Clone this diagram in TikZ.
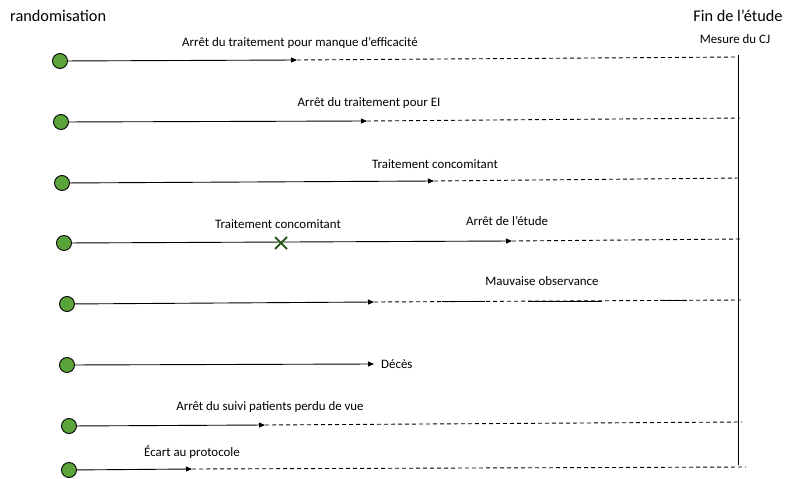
\documentclass[tikz,border=0pt]{standalone}
\usepackage{fontspec}
\setmainfont{Carlito}
\usetikzlibrary{arrows.meta}
\definecolor{dotgreen}{HTML}{5BA33B}
\definecolor{xgreen}{HTML}{2E5A1C}
\tikzset{
  dot/.style={circle,draw=black,fill=dotgreen,line width=0.9pt,minimum size=15pt,inner sep=0pt},
  solidarrow/.style={-{Triangle[length=6pt,width=5pt]},line width=0.9pt},
  dashline/.style={dashed,dash pattern=on 4pt off 3pt,line width=0.9pt},
  lbl/.style={font=\fontsize{12.9}{14}\selectfont,inner sep=0pt},
  big/.style={font=\fontsize{16.3}{18}\selectfont,inner sep=0pt},
  xmark/.style={draw=xgreen,line width=2pt}
}
\begin{document}
\begin{tikzpicture}[x=1pt,y=-1pt]
\useasboundingbox (0,0) rectangle (790,479);
% headings
\node[big,anchor=west] (rand) at (10,16) {randomisation};
\node[big] (fin) at (738,16) {Fin de l’étude};
\node[lbl] (mes) at (735,39) {Mesure du CJ};
% vertical end line
\coordinate (vtop) at (738,55);
\coordinate (vbot) at (738,465);
\draw[line width=0.9pt] (vtop) -- (vbot);
% row 1
\node[dot] (c1) at (60,61) {};
\coordinate (a1) at (297,60);
\coordinate (e1) at (738,57);
\draw[solidarrow] (c1) -- (a1);
\draw[dashline] (a1) -- (e1);
\node[lbl] (l1) at (300,43) {Arrêt du traitement pour manque d’efficacité};
% row 2
\node[dot] (c2) at (61,122) {};
\coordinate (a2) at (367,121);
\coordinate (e2) at (740,118);
\draw[solidarrow] (c2) -- (a2);
\draw[dashline] (a2) -- (e2);
\node[lbl] (l2) at (369,103) {Arrêt du traitement pour EI};
% row 3
\node[dot] (c3) at (62,183) {};
\coordinate (a3) at (434,181);
\coordinate (e3) at (741,178);
\draw[solidarrow] (c3) -- (a3);
\draw[dashline] (a3) -- (e3);
\node[lbl] (l3) at (435,164) {Traitement concomitant};
% row 4
\node[dot] (c4) at (64,243) {};
\coordinate (a4) at (512,241);
\coordinate (e4) at (741,239);
\draw[solidarrow] (c4) -- (a4);
\draw[dashline] (a4) -- (e4);
\node[lbl] (l4a) at (278,224) {Traitement concomitant};
\node[lbl] (l4b) at (507,221) {Arrêt de l’étude};
\coordinate (x4) at (281,243);
\draw[xmark] ([shift={(-6,-6)}]x4) -- ([shift={(6,6)}]x4)
             ([shift={(-6,6)}]x4) -- ([shift={(6,-6)}]x4);
% row 5
\node[dot] (c5) at (67,304) {};
\coordinate (a5) at (374,302);
\coordinate (e5) at (741,300);
\draw[solidarrow] (c5) -- (a5);
\draw[dashline] (a5) -- (e5);
\coordinate (s1a) at (442,301.5); \coordinate (s1b) at (485,301.5);
\coordinate (s2a) at (528,301.2); \coordinate (s2b) at (602,301.2);
\coordinate (s3a) at (660,300.6); \coordinate (s3b) at (687,300.6);
\draw[line width=0.9pt] (s1a) -- (s1b) (s2a) -- (s2b) (s3a) -- (s3b);
\node[lbl] (l5) at (542,281) {Mauvaise observance};
% row 6
\node[dot] (c6) at (67,365) {};
\coordinate (a6) at (374,364);
\draw[solidarrow] (c6) -- (a6);
\node[lbl,anchor=west] (l6) at (381,364) {Décès};
% row 7
\node[dot] (c7) at (69,426) {};
\coordinate (a7) at (265,425);
\coordinate (e7) at (742,422);
\draw[solidarrow] (c7) -- (a7);
\draw[dashline] (a7) -- (e7);
\node[lbl] (l7) at (270,407) {Arrêt du suivi patients perdu de vue};
% row 8
\node[dot] (c8) at (69,470) {};
\coordinate (a8) at (192,469);
\coordinate (e8) at (746,467);
\draw[solidarrow] (c8) -- (a8);
\draw[dashline] (a8) -- (e8);
\node[lbl] (l8) at (192,452) {Écart au protocole};
\end{tikzpicture}
\end{document}
